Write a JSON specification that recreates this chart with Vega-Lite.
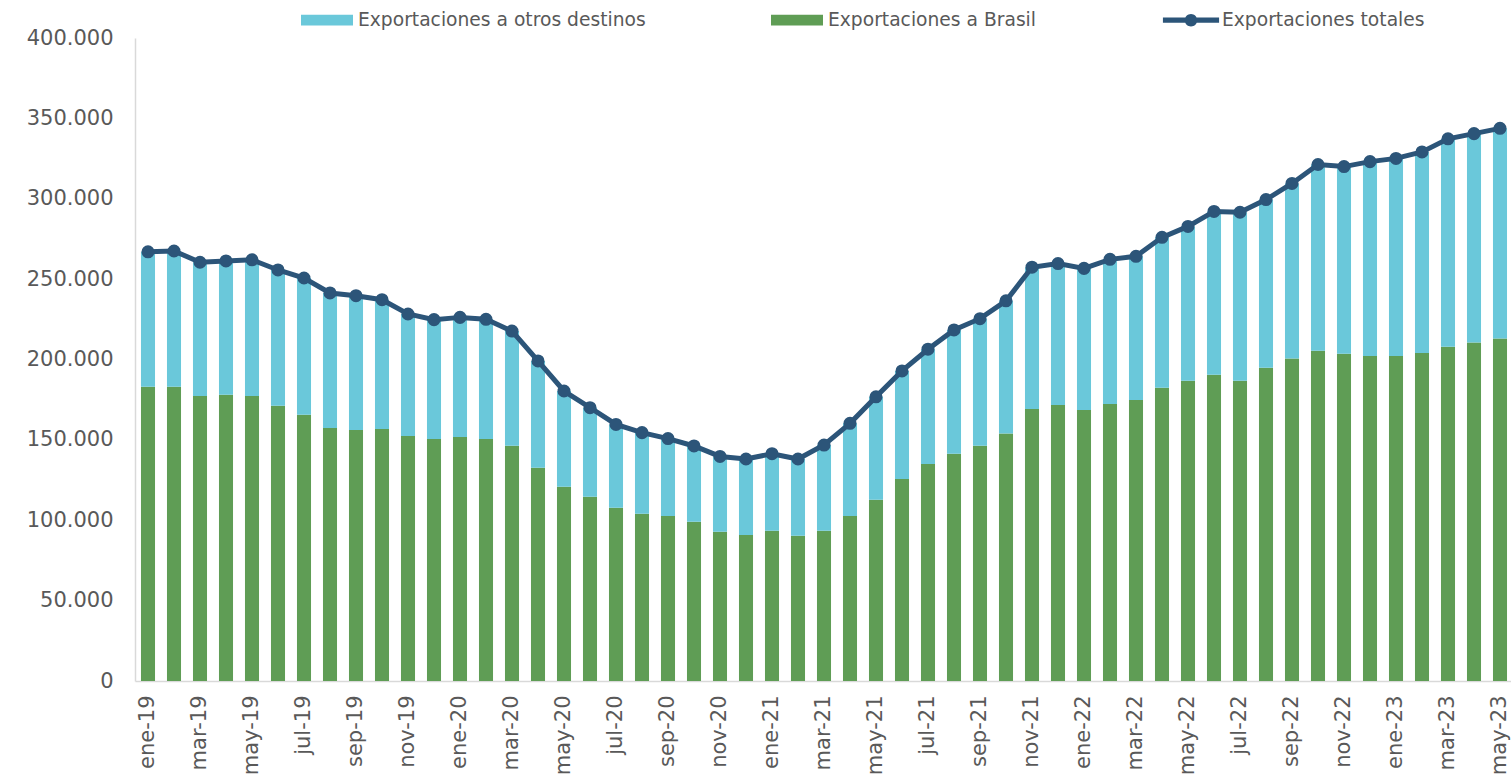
{
  "$schema": "https://vega.github.io/schema/vega-lite/v6.json",
  "autosize": {"type": "none"},
  "width": 1378,
  "height": 643,
  "padding": {"left": 135, "top": 38, "right": 0, "bottom": 99},
  "background": "white",
  "config": {
    "font": "DejaVu Sans",
    "view": {"stroke": null},
    "locale": {"number": {"decimal": ",", "thousands": ".", "grouping": [3], "currency": ["", " €"]}}
  },
  "data": {"values": [
    {"mes": "ene-19", "brasil": 183000, "otros": 84000, "total": 267000},
    {"mes": "feb-19", "brasil": 183000, "otros": 84500, "total": 267500},
    {"mes": "mar-19", "brasil": 177300, "otros": 83200, "total": 260500},
    {"mes": "abr-19", "brasil": 178000, "otros": 83300, "total": 261300},
    {"mes": "may-19", "brasil": 177300, "otros": 84700, "total": 262000},
    {"mes": "jun-19", "brasil": 171300, "otros": 84400, "total": 255700},
    {"mes": "jul-19", "brasil": 165700, "otros": 85000, "total": 250700},
    {"mes": "ago-19", "brasil": 157400, "otros": 84000, "total": 241400},
    {"mes": "sep-19", "brasil": 156100, "otros": 83600, "total": 239700},
    {"mes": "oct-19", "brasil": 156800, "otros": 80400, "total": 237200},
    {"mes": "nov-19", "brasil": 152400, "otros": 75900, "total": 228300},
    {"mes": "dic-19", "brasil": 150500, "otros": 74300, "total": 224800},
    {"mes": "ene-20", "brasil": 151800, "otros": 74400, "total": 226200},
    {"mes": "feb-20", "brasil": 150500, "otros": 74500, "total": 225000},
    {"mes": "mar-20", "brasil": 146300, "otros": 71400, "total": 217700},
    {"mes": "abr-20", "brasil": 132600, "otros": 66500, "total": 199100},
    {"mes": "may-20", "brasil": 120800, "otros": 59600, "total": 180400},
    {"mes": "jun-20", "brasil": 114600, "otros": 55400, "total": 170000},
    {"mes": "jul-20", "brasil": 107800, "otros": 51800, "total": 159600},
    {"mes": "ago-20", "brasil": 104000, "otros": 50500, "total": 154500},
    {"mes": "sep-20", "brasil": 102700, "otros": 48100, "total": 150800},
    {"mes": "oct-20", "brasil": 99000, "otros": 47200, "total": 146200},
    {"mes": "nov-20", "brasil": 92800, "otros": 46900, "total": 139700},
    {"mes": "dic-20", "brasil": 90900, "otros": 47200, "total": 138100},
    {"mes": "ene-21", "brasil": 93400, "otros": 48000, "total": 141400},
    {"mes": "feb-21", "brasil": 90300, "otros": 47800, "total": 138100},
    {"mes": "mar-21", "brasil": 93400, "otros": 53400, "total": 146800},
    {"mes": "abr-21", "brasil": 102700, "otros": 57600, "total": 160300},
    {"mes": "may-21", "brasil": 112700, "otros": 64100, "total": 176800},
    {"mes": "jun-21", "brasil": 125700, "otros": 67200, "total": 192900},
    {"mes": "jul-21", "brasil": 135000, "otros": 71400, "total": 206400},
    {"mes": "ago-21", "brasil": 141300, "otros": 77100, "total": 218400},
    {"mes": "sep-21", "brasil": 146300, "otros": 79100, "total": 225400},
    {"mes": "oct-21", "brasil": 153900, "otros": 82600, "total": 236500},
    {"mes": "nov-21", "brasil": 169200, "otros": 88200, "total": 257400},
    {"mes": "dic-21", "brasil": 171700, "otros": 88000, "total": 259700},
    {"mes": "ene-22", "brasil": 168600, "otros": 88100, "total": 256700},
    {"mes": "feb-22", "brasil": 172300, "otros": 90000, "total": 262300},
    {"mes": "mar-22", "brasil": 174800, "otros": 89400, "total": 264200},
    {"mes": "abr-22", "brasil": 182400, "otros": 93600, "total": 276000},
    {"mes": "may-22", "brasil": 186800, "otros": 96000, "total": 282800},
    {"mes": "jun-22", "brasil": 190500, "otros": 101600, "total": 292100},
    {"mes": "jul-22", "brasil": 186800, "otros": 104800, "total": 291600},
    {"mes": "ago-22", "brasil": 194800, "otros": 104700, "total": 299500},
    {"mes": "sep-22", "brasil": 200600, "otros": 108900, "total": 309500},
    {"mes": "oct-22", "brasil": 205500, "otros": 115800, "total": 321300},
    {"mes": "nov-22", "brasil": 203600, "otros": 116400, "total": 320000},
    {"mes": "dic-22", "brasil": 202200, "otros": 120900, "total": 323100},
    {"mes": "ene-23", "brasil": 202200, "otros": 122900, "total": 325100},
    {"mes": "feb-23", "brasil": 204000, "otros": 125100, "total": 329100},
    {"mes": "mar-23", "brasil": 208000, "otros": 129300, "total": 337300},
    {"mes": "abr-23", "brasil": 210600, "otros": 129900, "total": 340500},
    {"mes": "may-23", "brasil": 213000, "otros": 130800, "total": 343800}
  ]},
  "encoding": {
    "x": {
      "field": "mes", "type": "nominal", "sort": null,
      "scale": {"paddingInner": 0.46, "paddingOuter": 0.23},
      "axis": {
        "title": null, "ticks": false, "labelAngle": -90, "labelFontSize": 21,
        "labelColor": "#595959", "labelPadding": 14, "labelOverlap": false,
        "domainColor": "#D9D9D9", "domainWidth": 1.5, "grid": false,
        "values": ["ene-19","mar-19","may-19","jul-19","sep-19","nov-19","ene-20","mar-20","may-20","jul-20","sep-20","nov-20","ene-21","mar-21","may-21","jul-21","sep-21","nov-21","ene-22","mar-22","may-22","jul-22","sep-22","nov-22","ene-23","mar-23","may-23"]
      }
    }
  },
  "layer": [
    {
      "transform": [{"fold": ["brasil", "otros"], "as": ["serie", "valor"]}],
      "mark": {"type": "bar"},
      "encoding": {
        "y": {
          "field": "valor", "type": "quantitative", "stack": "zero",
          "scale": {"domain": [0, 400000], "nice": false},
          "axis": {
            "title": null, "ticks": false, "grid": false, "labelFontSize": 21,
            "labelColor": "#595959", "labelPadding": 22, "domainColor": "#D9D9D9",
            "domainWidth": 1.5, "format": ",d",
            "values": [0, 50000, 100000, 150000, 200000, 250000, 300000, 350000, 400000]
          }
        },
        "order": {"field": "serie", "sort": "ascending"},
        "color": {
          "field": "serie", "type": "nominal",
          "scale": {"domain": ["otros", "brasil", "total"], "range": ["#6AC8DA", "#5F9D55", "#2C5579"]},
          "legend": {
            "title": null, "orient": "none", "legendX": 166, "legendY": -44,
            "direction": "horizontal", "columnPadding": 125,
            "labelFontSize": 18.7, "labelColor": "#595959", "labelFont": "DejaVu Sans",
            "labelLimit": 0,
            "symbolSize": 2704, "labelOffset": 5,
            "labelExpr": "datum.value === 'otros' ? 'Exportaciones a otros destinos' : datum.value === 'brasil' ? 'Exportaciones a Brasil' : 'Exportaciones totales'",
            "encode": {
              "symbols": {
                "update": {
                  "shape": {"signal": "datum.value === 'total' ? 'M-1.08,-0.1H1.08V0.1H-1.08Z M0.24,0A0.24,0.24 0 1,1 -0.24,0A0.24,0.24 0 1,1 0.24,0Z' : 'M-1,-0.21H1V0.21H-1Z'"},
                  "fill": {"scale": "color", "field": "value"},
                  "stroke": {"value": "transparent"},
                  "strokeWidth": {"value": 0},
                  "opacity": {"value": 1}
                }
              }
            }
          }
        }
      }
    },
    {
      "mark": {"type": "line", "strokeWidth": 5, "point": {"filled": true, "size": 170}},
      "encoding": {
        "y": {"field": "total", "type": "quantitative"},
        "color": {"datum": "total"}
      }
    }
  ]
}
